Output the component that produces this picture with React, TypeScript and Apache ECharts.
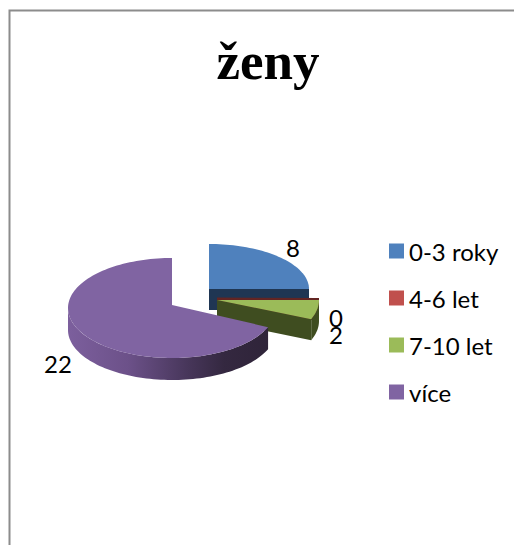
import React, { useEffect, useRef } from "react";
import * as echarts from "echarts";

const titleText = "ženy";
const categories = ["0-3 roky", "4-6 let", "7-10 let", "více"];
const values = [8, 0, 2, 22];
const topColors = ["#4f81bd", "#c0504d", "#9bbb59", "#8064a2"];
const faceColors = ["#1f3653", "#632523", "#3f4d20", "#34283f"];

// layout of each exploded slice: tip of the slice, ellipse centre, radii, depth
const sliceLayout = [
  { tip: [209, 289], c: [209, 289], rx: 100, ry: 45, depth: 21 },
  { tip: [217, 298.5], c: [217, 299], rx: 102, ry: 45, depth: 21 },
  { tip: [217, 300], c: [217, 300], rx: 102, ry: 50, depth: 21 },
  { tip: [172, 305], c: [172, 308], rx: 104, ry: 50, depth: 22 },
];
const labelPositions = [
  [293, 247],
  [336, 317],
  [336, 334],
  [58, 363],
];

const total = values.reduce((a, b) => a + b, 0);
const startAngle = (i: number) =>
  (values.slice(0, i).reduce((a, b) => a + b, 0) / total) * 360;

const arcPoints = (l: any, a0: number, a1: number, dy = 0) => {
  const n = Math.max(2, Math.ceil(Math.abs(a1 - a0) / 2));
  const pts: number[][] = [];
  for (let k = 0; k <= n; k++) {
    const t = ((a0 + ((a1 - a0) * k) / n) * Math.PI) / 180;
    pts.push([l.c[0] + l.rx * Math.sin(t), l.c[1] - l.ry * Math.cos(t) + dy]);
  }
  return pts;
};

const renderSlice = (i: number) => (_params: any, api: any) => {
  const value = api.value(0);
  const a0 = startAngle(i);
  const a1 = a0 + (value / total) * 360;
  const l = sliceLayout[i];
  const children: any[] = [];

  // cut face at the end angle, turned to the viewer
  if (a1 >= 90 && a1 <= 180) {
    const end = arcPoints(l, a1, a1)[0];
    children.push({
      type: "polygon",
      shape: {
        points: [
          l.tip,
          end,
          [end[0], end[1] + l.depth],
          [l.tip[0], l.tip[1] + l.depth],
        ],
      },
      style: { fill: faceColors[i] },
    });
  }

  // outer wall on the front half
  const w0 = Math.max(a0, 90);
  const w1 = Math.min(a1, 270);
  if (w1 > w0) {
    const upper = arcPoints(l, w0, w1);
    const lower = arcPoints(l, w0, w1, l.depth).reverse();
    children.push({
      type: "polygon",
      shape: { points: [...upper, ...lower] },
      style: {
        fill:
          i === 3
            ? new echarts.graphic.LinearGradient(0, 0, 1, 0, [
                { offset: 0, color: "#7c5f9d" },
                { offset: 0.3, color: "#6c5189" },
                { offset: 0.6, color: "#47365a" },
                { offset: 0.78, color: "#342840" },
                { offset: 1, color: "#2f2439" },
              ])
            : faceColors[i],
      },
    });
  }

  // top surface
  children.push({
    type: "polygon",
    shape: { points: [l.tip, ...arcPoints(l, a0, a1)] },
    style:
      value === 0
        ? { fill: faceColors[i], stroke: faceColors[i], lineWidth: 2 }
        : { fill: topColors[i] },
  });

  children.push({
    type: "text",
    z2: 10,
    style: {
      x: labelPositions[i][0],
      y: labelPositions[i][1],
      text: String(value),
      fill: "#000",
      font: "24px Lato",
      align: "center",
      verticalAlign: "middle",
    },
  });

  return { type: "group", children };
};

export default function App() {
  const ref = useRef<HTMLDivElement>(null);
  useEffect(() => {
    const chart = echarts.init(ref.current!, null, { renderer: "svg" });
    chart.setOption({
      animation: false,
      backgroundColor: "#fff",
      title: {
        text: titleText,
        left: 268,
        top: 31,
        padding: 0,
        textAlign: "center",
        textStyle: {
          fontFamily: "Liberation Serif",
          fontWeight: "bold",
          fontSize: 53,
          color: "#000",
          lineHeight: 60,
        },
      },
      legend: {
        orient: "vertical",
        left: 389,
        top: 239,
        padding: 0,
        itemWidth: 15,
        itemHeight: 15,
        itemGap: 23,
        icon: "rect",
        data: categories,
        textStyle: {
          fontFamily: "Lato",
          fontSize: 24,
          color: "#000",
          padding: [0, 0, 3, 0],
        },
      },
      graphic: [
        {
          type: "polyline",
          shape: { points: [[9.5, 545], [9.5, 10.5], [514, 10.5]] },
          style: { stroke: "#8c8c8c", lineWidth: 2, fill: "none" },
        },
      ],
      series: categories.map((name, i) => ({
        type: "custom",
        name,
        coordinateSystem: "none",
        z: 2 + i,
        silent: true,
        itemStyle: { color: topColors[i] },
        data: [[values[i]]],
        renderItem: renderSlice(i),
      })),
    });
    return () => chart.dispose();
  }, []);
  return (
    <div
      ref={ref}
      style={{ position: "fixed", left: 0, top: 0, width: 514, height: 545 }}
    />
  );
}
